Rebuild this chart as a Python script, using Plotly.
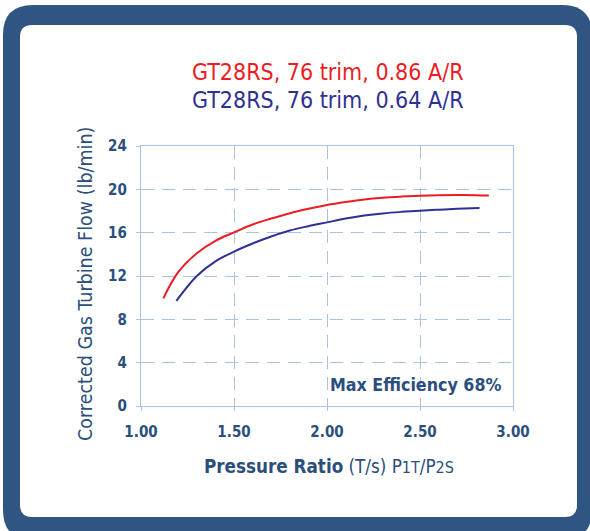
import plotly.graph_objects as go

# ---- data ----
red_x = [1.12, 1.2, 1.3, 1.4, 1.5, 1.6, 1.7, 1.8, 1.9, 2.0, 2.1, 2.2, 2.3, 2.4, 2.5, 2.6, 2.7, 2.8, 2.87]
red_y = [9.94, 12.35, 14.1, 15.25, 16.03, 16.75, 17.3, 17.8, 18.2, 18.55, 18.83, 19.07, 19.23, 19.33, 19.4,
         19.45, 19.47, 19.46, 19.42]
blue_x = [1.19, 1.3, 1.4, 1.5, 1.6, 1.7, 1.8, 1.9, 2.0, 2.1, 2.2, 2.3, 2.4, 2.5, 2.6, 2.7, 2.82]
blue_y = [9.7, 12.0, 13.35, 14.25, 15.0, 15.65, 16.2, 16.6, 16.95, 17.3, 17.58, 17.78, 17.92, 18.03,
          18.12, 18.2, 18.28]
red_name = "GT28RS, 76 trim, 0.86 A/R"
blue_name = "GT28RS, 76 trim, 0.64 A/R"
x_ticks = [1.0, 1.5, 2.0, 2.5, 3.0]
x_tick_labels = ["1.00", "1.50", "2.00", "2.50", "3.00"]
y_ticks = [0, 4, 8, 12, 16, 20, 24]
note = "Max Efficiency 68%"

W, H = 590, 531
L, R, T, B = 141, 77, 146, 125
PW, PH = W - L - R, H - T - B

FONT = "Liberation Sans Narrow, DejaVu Sans Condensed, Arial Narrow, sans-serif"
TXT = "#2b4f7c"
GRID = "#a9c3e5"
FRAME = "#2f5582"


def px(x):
    return (x - L) / PW


def py(y):
    return (H - B - y) / PH


def rrect(x0, y0, x1, y1, r):
    def P(x, y):
        return f"{px(x):.5f},{py(y):.5f}"
    return (f"M {P(x0 + r, y0)} L {P(x1 - r, y0)} Q {P(x1, y0)} {P(x1, y0 + r)} "
            f"L {P(x1, y1 - r)} Q {P(x1, y1)} {P(x1 - r, y1)} L {P(x0 + r, y1)} "
            f"Q {P(x0, y1)} {P(x0, y1 - r)} L {P(x0, y0 + r)} Q {P(x0, y0)} {P(x0 + r, y0)} Z")


fig = go.Figure()
fig.add_trace(go.Scatter(x=red_x, y=red_y, mode="lines", name=red_name,
                         line=dict(color="#ec1c24", width=2, shape="spline", smoothing=1.0)))
fig.add_trace(go.Scatter(x=blue_x, y=blue_y, mode="lines", name=blue_name,
                         line=dict(color="#2e3192", width=2, shape="spline", smoothing=1.0)))

shapes = [
    dict(type="path", xref="paper", yref="paper", path=rrect(3, 5, 592, 540, 30),
         fillcolor=FRAME, line=dict(width=0), layer="below"),
    dict(type="path", xref="paper", yref="paper", path=rrect(20, 25, 577, 517, 12),
         fillcolor="white", line=dict(width=0), layer="below"),
]

annotations = [
    dict(text=red_name, x=px(327.5), y=py(72), xref="paper", yref="paper", showarrow=False,
         font=dict(family=FONT, size=23, color="#ec1c24"), xanchor="center", yanchor="middle"),
    dict(text=blue_name, x=px(327.5), y=py(100), xref="paper", yref="paper", showarrow=False,
         font=dict(family=FONT, size=23, color="#2e3192"), xanchor="center", yanchor="middle"),
    dict(text="Corrected Gas Turbine Flow (lb/min)", x=px(85), y=py(284), xref="paper", yref="paper",
         showarrow=False, textangle=-90, font=dict(family=FONT, size=19.5, color=TXT),
         xanchor="center", yanchor="middle"),
    dict(text="<b>Pressure Ratio</b> (T/s) P<span style='font-size:16px'>1T</span>/P<span style='font-size:16px'>2S</span>",
         x=px(328.5), y=py(466), xref="paper", yref="paper", showarrow=False,
         font=dict(family=FONT, size=18.7, color=TXT), xanchor="center", yanchor="middle"),
    dict(text=f"<b>{note}</b>", x=px(503), y=py(385), xref="paper", yref="paper", showarrow=False,
         font=dict(family=FONT, size=17.7, color=TXT), xanchor="right", yanchor="middle"),
]

fig.update_layout(
    width=W, height=H, margin=dict(l=L, r=R, t=T, b=B, pad=0),
    paper_bgcolor="white", plot_bgcolor="rgba(0,0,0,0)",
    showlegend=False, shapes=shapes, annotations=annotations,
    font=dict(family=FONT, color=TXT),
)
fig.update_xaxes(range=[1, 3], tickvals=x_ticks, ticktext=x_tick_labels,
                 showgrid=True, gridcolor=GRID, gridwidth=1.2, griddash="13px,8px",
                 showline=True, linecolor=GRID, linewidth=1.2, mirror=True,
                 ticks="outside", ticklen=4, tickcolor=GRID, zeroline=False,
                 tickfont=dict(family=FONT, size=15, color=TXT, weight="bold"),
                 ticklabelstandoff=8)
fig.update_yaxes(range=[0, 24], tickvals=y_ticks,
                 showgrid=True, gridcolor=GRID, gridwidth=1.2, griddash="13px,8px",
                 showline=True, linecolor=GRID, linewidth=1.2, mirror=True,
                 ticks="outside", ticklen=4, tickcolor=GRID, zeroline=False,
                 tickfont=dict(family=FONT, size=15, color=TXT, weight="bold"),
                 ticklabelstandoff=6)

fig.write_html("out.html", config={"displayModeBar": False},
               post_script="document.body.style.margin='0';")
